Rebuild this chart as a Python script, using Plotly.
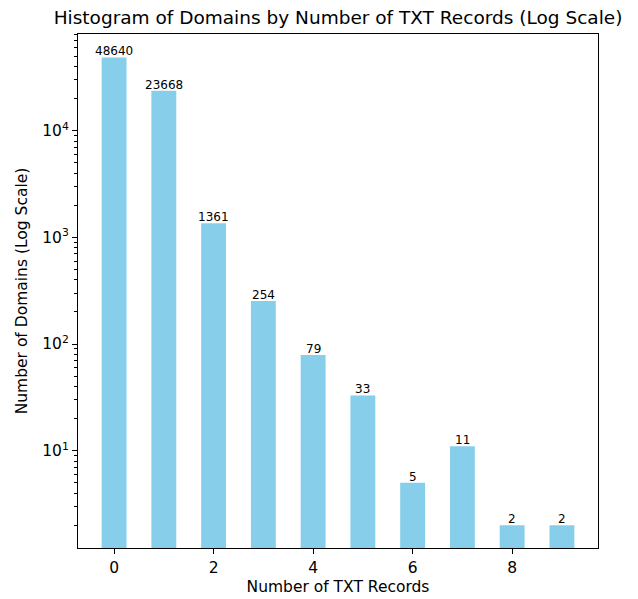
import math
import plotly.graph_objects as go

txt_records = [0, 1, 2, 3, 4, 5, 6, 7, 8, 9]
domain_counts = [48640, 23668, 1361, 254, 79, 33, 5, 11, 2, 2]
x_ticks = [0, 2, 4, 6, 8]
y_tick_vals = [10, 100, 1000, 10000]
y_tick_text = ["10<sup>1</sup>", "10<sup>2</sup>", "10<sup>3</sup>", "10<sup>4</sup>"]

font = "DejaVu Sans"
W, H = 630, 591  # page body adds an 8px offset

fig = go.Figure(
    go.Bar(
        x=txt_records,
        y=domain_counts,
        width=0.5,
        marker=dict(color="#87CEEB", line=dict(width=0)),
        cliponaxis=False,
        hoverinfo="x+y",
    )
)

for xv, yv in zip(txt_records, domain_counts):
    fig.add_annotation(
        x=xv, y=math.log10(yv), text=str(yv),
        showarrow=False, xanchor="center", yanchor="bottom", yshift=-3,
        font=dict(family=font, size=12, color="black"),
    )

fig.update_layout(
    width=W,
    height=H,
    margin=dict(l=70, r=40, t=26, b=51, autoexpand=False),
    plot_bgcolor="white",
    paper_bgcolor="white",
    font=dict(family=font, size=15.5, color="black"),
    title=dict(
        text="Histogram of Domains by Number of TXT Records (Log Scale)",
        x=0.5, xanchor="center", xref="paper",
        y=1 - 10 / H, yanchor="middle",
        font=dict(family=font, size=18.5, color="black"),
    ),
    showlegend=False,
)

fig.update_xaxes(
    range=[-0.725, 9.725],
    tickvals=x_ticks,
    ticks="outside", ticklen=5, tickwidth=1, tickcolor="black",
    showline=True, linecolor="black", linewidth=1, mirror=True,
    showgrid=False, zeroline=False, automargin=False,
    title=dict(text="Number of TXT Records", font=dict(family=font, size=15.5), standoff=5),
    tickfont=dict(family=font, size=15.5),
)

fig.update_yaxes(
    type="log",
    range=[0.088, 4.907],
    tickvals=y_tick_vals,
    ticktext=y_tick_text,
    ticks="outside", ticklen=5, tickwidth=1, tickcolor="black",
    minor=dict(ticks="outside", ticklen=3, tickcolor="black", dtick="D1", showgrid=False),
    showline=True, linecolor="black", linewidth=1, mirror=True,
    showgrid=False, zeroline=False, automargin=False,
    title=dict(text="Number of Domains (Log Scale)", font=dict(family=font, size=15.5), standoff=10),
    tickfont=dict(family=font, size=15.5),
)

fig.write_html("out.html")
